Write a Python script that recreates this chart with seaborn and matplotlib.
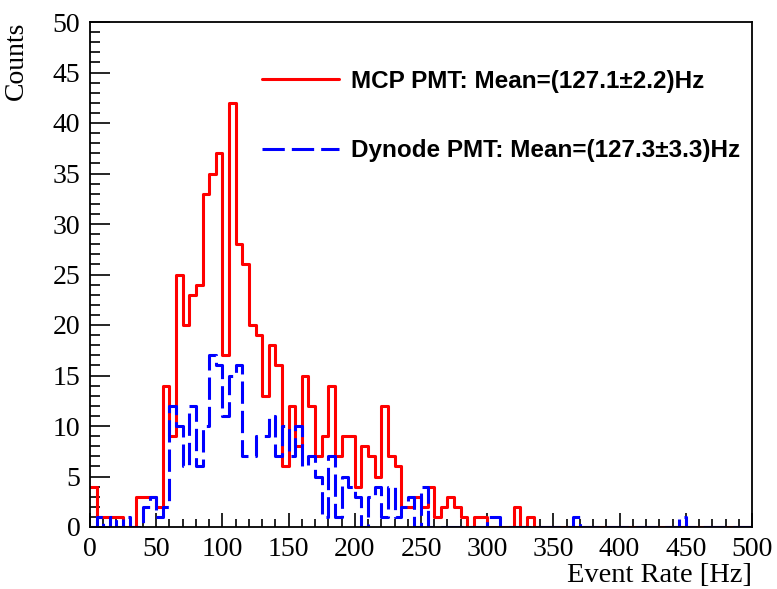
import numpy as np
import pandas as pd
import matplotlib
matplotlib.use("Agg")
import matplotlib.pyplot as plt
from matplotlib.ticker import MultipleLocator
import seaborn as sns

# Event-rate histograms, 5 Hz bins from 0 to 500 Hz
bin_edges = np.arange(0, 505, 5)
bin_centers = bin_edges[:-1] + 2.5

mcp_counts = [
    4, 1, 1, 1, 1, 0, 0, 3, 3, 3,
    2, 14, 9, 25, 20, 23, 24, 33, 35, 37,
    17, 42, 28, 26, 20, 19, 13, 18, 16, 6,
    12, 8, 15, 12, 7, 9, 14, 7, 9, 9,
    4, 8, 7, 5, 12, 7, 6, 2, 2, 3,
    2, 4, 1, 2, 3, 2, 1, 0, 1, 1,
    0, 0, 0, 0, 2, 0, 1, 0, 0, 0,
] + [0] * 30

dynode_counts = [
    0, 1, 0, 1, 0, 1, 0, 0, 2, 3,
    1, 2, 12, 10, 6, 12, 6, 10, 17, 16,
    11, 15, 16, 7, 7, 9, 9, 11, 7, 10,
    7, 10, 6, 7, 5, 1, 7, 1, 5, 4,
    3, 0, 3, 4, 1, 4, 1, 2, 3, 0,
    4, 0, 0, 0, 0, 0, 0, 0, 0, 0,
    1, 1, 0, 0, 0, 0, 0, 0, 0, 0,
    0, 0, 0, 1, 0, 0, 0, 0, 0, 0,
    0, 0, 0, 0, 0, 0, 0, 0, 0, 1,
    0, 0, 0, 0, 0, 0, 0, 0, 0, 0,
]

mcp_label = "MCP PMT: Mean=(127.1\u00b12.2)Hz"
dynode_label = "Dynode PMT: Mean=(127.3\u00b13.3)Hz"

df = pd.DataFrame({
    "rate": np.concatenate([bin_centers, bin_centers]),
    "count": np.concatenate([mcp_counts, dynode_counts]),
    "pmt": [mcp_label] * len(bin_centers) + [dynode_label] * len(bin_centers),
})

sns.set_style("ticks")
plt.rcParams.update({
    "font.family": ["Liberation Serif", "DejaVu Serif"],
    "text.color": "black",
    "axes.labelcolor": "black",
    "xtick.color": "black",
    "ytick.color": "black",
})

fig = plt.figure(figsize=(7.77, 5.89), dpi=100)
ax = fig.add_axes([90 / 777, 1 - 527 / 589, 662 / 777, 505 / 589])

hist_kws = dict(x="rate", weights="count", binwidth=5, binrange=(0, 500),
                element="step", fill=False, linewidth=2.2, ax=ax)
sns.histplot(data=df[df.pmt == mcp_label], color="#ff0000",
             label=mcp_label, **hist_kws)
sns.histplot(data=df[df.pmt == dynode_label], color="#0000ff",
             linestyle="--", dashes=(7.3, 2.3), label=dynode_label, **hist_kws)

ax.set_xlim(0, 500)
ax.set_ylim(0, 50)
ax.xaxis.set_major_locator(MultipleLocator(50))
ax.xaxis.set_minor_locator(MultipleLocator(10))
ax.yaxis.set_major_locator(MultipleLocator(5))
ax.yaxis.set_minor_locator(MultipleLocator(1))

ax.tick_params(axis="both", which="both", direction="in", width=1.2,
               labelsize=20, colors="black")
ax.tick_params(axis="x", which="major", length=10, pad=7)
ax.tick_params(axis="x", which="minor", length=5.5)
ax.tick_params(axis="y", which="major", length=14.5, pad=7)
ax.tick_params(axis="y", which="minor", length=7.5)

for side in ["left", "right", "top", "bottom"]:
    ax.spines[side].set_visible(True)
    ax.spines[side].set_linewidth(1.3)
    ax.spines[side].set_color("black")

ax.set_xlabel("Event Rate [Hz]", fontsize=20.5, loc="right")
ax.set_ylabel("Counts", fontsize=20, loc="top")
ax.xaxis.set_label_coords(1.0, -0.072)
ax.yaxis.set_label_coords(-0.092, 1.0)

leg = ax.legend(loc="upper left", bbox_to_anchor=(0.26, 0.905), frameon=False,
                handlelength=3.15, handletextpad=0.5, labelspacing=1.9,
                borderpad=0, borderaxespad=0, labelcolor="black",
                prop={"family": ["Liberation Sans", "DejaVu Sans"],
                      "weight": "bold", "size": 17.5})

fig.savefig("out.png", dpi=100, facecolor="white")
